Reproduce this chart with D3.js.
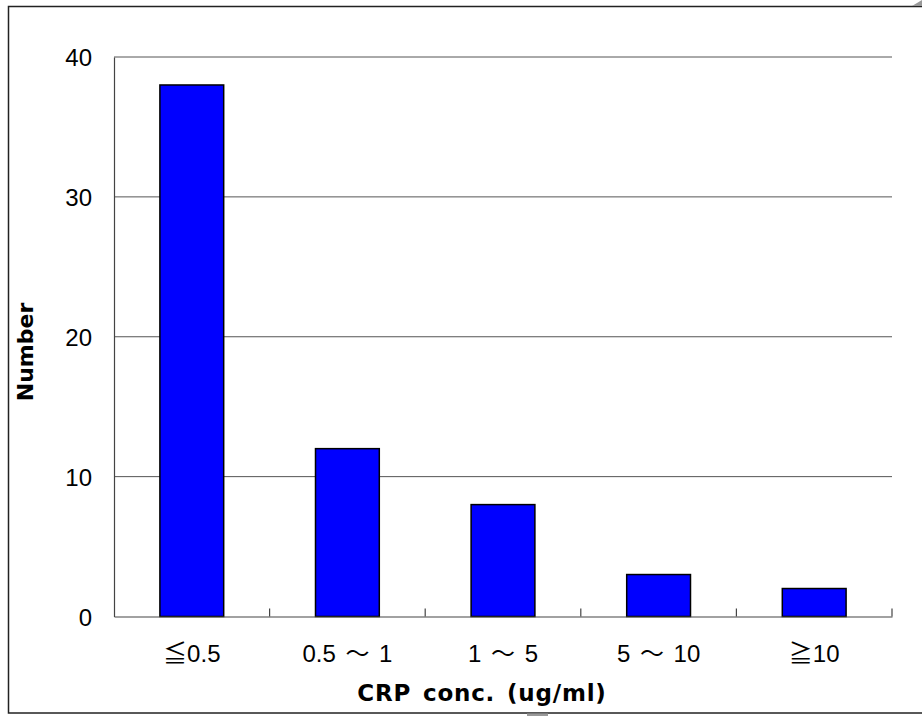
<!DOCTYPE html>
<html>
<head>
<meta charset="utf-8">
<script src="https://cdn.jsdelivr.net/npm/d3@7"></script>
<style>
  body { margin: 0; background: #fff; }
  svg text { font-family: "Liberation Sans", "Noto Sans CJK JP", sans-serif; fill: #000; }
</style>
</head>
<body>
<svg id="chart" width="922" height="716"></svg>
<script>
var categories = ['≦0.5', '0.5 ～ 1', '1 ～ 5', '5 ～ 10', '≧10']
var counts = [38, 12, 8, 3, 2]
var yTicks = [0, 10, 20, 30, 40]

var svg = d3.select('#chart')
var plotL = 114, plotR = 892, plotT = 57, plotB = 616.5

// outer frame
svg.append('rect')
    .attr('x', 8.5).attr('y', 6.5)
    .attr('width', 930).attr('height', 706.5)
    .attr('fill', 'none').attr('stroke', '#222').attr('stroke-width', 1.5)
svg.append('path')
    .attr('d', 'M912,6 L922,0 L922,6 Z')
    .attr('fill', '#999')
svg.append('rect')
    .attr('x', 527).attr('y', 713.5).attr('width', 21).attr('height', 3)
    .attr('fill', '#999')

var x = d3.scaleBand().domain(categories).range([plotL, plotR])
var y = d3.scaleLinear().domain([0, 40]).range([plotB, plotT])

// gridlines
svg.append('g').selectAll('line')
    .data(yTicks.filter(function(d) { return d > 0 }))
    .enter().append('line')
    .attr('x1', plotL).attr('x2', plotR)
    .attr('y1', function(d) { return y(d) }).attr('y2', function(d) { return y(d) })
    .attr('stroke', '#555').attr('stroke-width', 1)

// bars
var bw = x.bandwidth() * 0.41
svg.append('g').selectAll('rect')
    .data(counts)
    .enter().append('rect')
    .attr('x', function(d, i) { return x(categories[i]) + (x.bandwidth() - bw) / 2 })
    .attr('y', function(d) { return y(d) })
    .attr('width', bw)
    .attr('height', function(d) { return y(0) - y(d) })
    .attr('fill', '#0000ff')
    .attr('stroke', '#000').attr('stroke-width', 1.5)

// y axis
var yAxis = svg.append('g')
    .attr('transform', 'translate(' + plotL + ',0)')
    .call(d3.axisLeft(y).tickValues(yTicks).tickSize(0).tickPadding(22))
yAxis.select('.domain').attr('stroke', '#444').attr('stroke-width', 1.2)
yAxis.selectAll('text').style('font-size', '24px').attr('dy', '0.36em')

// x axis, ticks pointing up at category boundaries
var xAxis = svg.append('g')
    .attr('transform', 'translate(0,' + plotB + ')')
    .call(d3.axisBottom(x).tickSize(0).tickPadding(28))
xAxis.select('.domain').attr('stroke', '#444').attr('stroke-width', 1.2)
xAxis.selectAll('text').style('font-size', '24px').style('word-spacing', '3px')
svg.append('g').selectAll('line')
    .data(categories)
    .enter().append('line')
    .attr('x1', function(d) { return x(d) + x.bandwidth() })
    .attr('x2', function(d) { return x(d) + x.bandwidth() })
    .attr('y1', plotB).attr('y2', plotB - 8)
    .attr('stroke', '#444').attr('stroke-width', 1.2)

// axis titles
svg.append('text')
    .attr('x', 482).attr('y', 701)
    .attr('text-anchor', 'middle')
    .style('font-family', '"DejaVu Sans", sans-serif')
    .style('font-size', '23px').style('font-weight', 'bold')
    .style('letter-spacing', '0.8px').style('word-spacing', '3px')
    .text('CRP conc. (ug/ml)')
svg.append('text')
    .attr('transform', 'translate(33,352) rotate(-90)')
    .attr('text-anchor', 'middle')
    .style('font-family', '"DejaVu Sans", sans-serif')
    .style('font-size', '22px').style('font-weight', 'bold')
    .text('Number')
</script>
</body>
</html>
